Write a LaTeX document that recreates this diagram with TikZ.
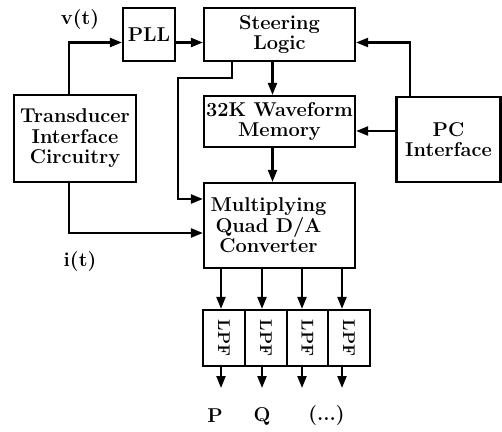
\documentclass[tikz,border=0pt]{standalone}
\usetikzlibrary{arrows.meta}
\begin{document}
\begin{tikzpicture}[x=1pt,y=-1pt,
  every node/.style={font=\fontsize{20}{20.5}\selectfont\bfseries},
  box/.style={draw,line width=2.2pt,rectangle,inner sep=0pt,align=center},
  lpf/.style={box,minimum width=42pt,minimum height=56pt,font=\fontsize{17}{18}\selectfont\bfseries},
  arr/.style={line width=2.2pt,-{Triangle[length=12pt,width=9pt]}},
  lbl/.style={inner sep=0pt}]
\path[use as bounding box] (0,0) rectangle (502,431);

\node[box,minimum width=52pt,minimum height=53pt] (pll) at (149,34.5) {PLL};
\node[box,minimum width=151pt,minimum height=53pt] (steer) at (279.5,34.5) {Steering\\Logic};
\node[box,minimum width=122pt,minimum height=87pt] (trans) at (75,138.5) {Transducer\\Interface\\Circuitry};
\node[box,minimum width=151pt,minimum height=51pt] (mem) at (279.5,121.5) {32K Waveform\\Memory};
\node[box,minimum width=104pt,minimum height=85pt] (pc) at (448.5,139.5) {PC\\Interface};
\node[box,minimum width=151pt,minimum height=85pt,
      label={[align=center,xshift=-11pt]center:Multiplying\\Quad D/A\\Converter}] (mult) at (279.5,225.5) {};

\node[lpf] (l1) at (224,338) {\rotatebox{-90}{LPF}};
\node[lpf] (l2) at (266,338) {\rotatebox{-90}{LPF}};
\node[lpf,minimum width=41pt] (l3) at (307.5,338) {\rotatebox{-90}{LPF}};
\node[lpf] (l4) at (349,338) {\rotatebox{-90}{LPF}};

\node[lbl] (vt) at (80,20) {v(t)};
\node[lbl] (it) at (80,262) {i(t)};
\node[lbl] (P) at (215,416) {P};
\node[lbl] (Q) at (262,416) {Q};
\node[lbl] (dots) at (326.5,416) {(...)};

\coordinate (k1) at (178,78);
\coordinate (o1) at (221,388);
\coordinate (o2) at (262,388);
\coordinate (o3) at (302,388);
\coordinate (o4) at (342,388);

% connectors
\draw[arr] ([xshift=-6pt]trans.north) |- ([yshift=-8pt]pll.west);
\draw[arr] ([yshift=-8pt]pll.east) -- ([yshift=-8pt]pll.east -| steer.west);
\draw[arr] ([xshift=-38.5pt]pc.north) |- ([yshift=-8pt]steer.east);
\draw[arr] ([yshift=8.5pt]pc.west) -- ([yshift=8.5pt]pc.west -| mem.east);
\draw[arr] ([xshift=-7pt]steer.south) -- ([xshift=-7pt]steer.south |- mem.north);
\draw[arr] ([xshift=-7pt]mem.south) -- ([xshift=-7pt]mem.south |- mult.north);
\draw[arr] ([xshift=-47.5pt]steer.south) |- (k1) |- ([yshift=26.5pt]mult.west);
\draw[arr] ([xshift=-6pt]trans.south) |- ([yshift=-7.5pt]mult.west);

\draw[arr] (o1 |- mult.south) -- (o1 |- l1.north);
\draw[arr] (o2 |- mult.south) -- (o2 |- l2.north);
\draw[arr] (o3 |- mult.south) -- (o3 |- l3.north);
\draw[arr] (o4 |- mult.south) -- (o4 |- l4.north);

\draw[arr] (o1 |- l1.south) -- (o1);
\draw[arr] (o2 |- l2.south) -- (o2);
\draw[arr] (o3 |- l3.south) -- (o3);
\draw[arr] (o4 |- l4.south) -- (o4);
\end{tikzpicture}
\end{document}
